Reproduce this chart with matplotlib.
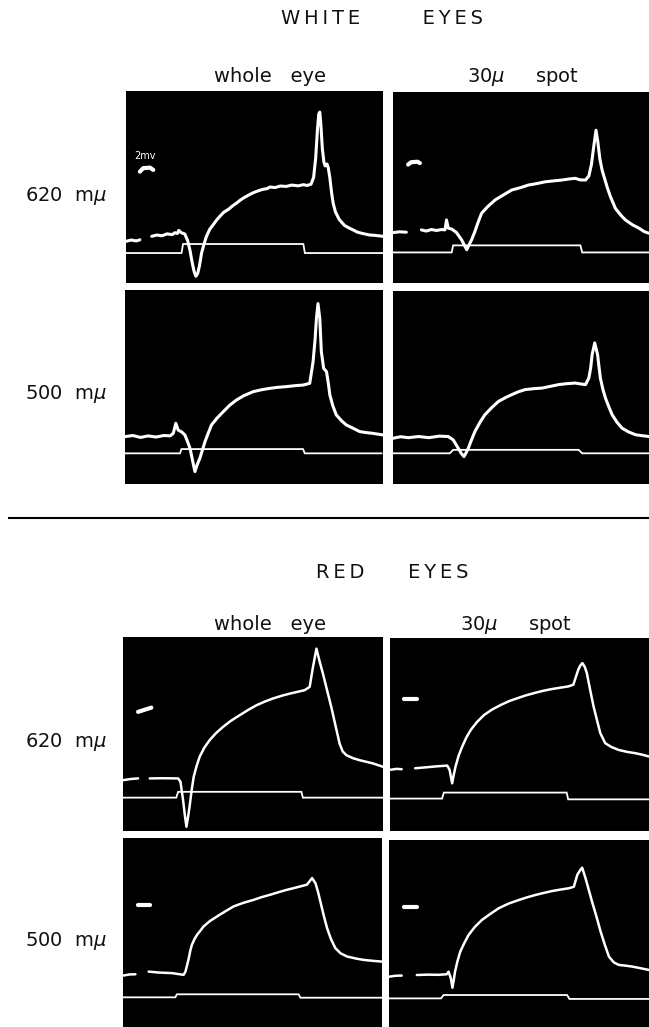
import numpy as np
import matplotlib
matplotlib.use("Agg")
import matplotlib.pyplot as plt
from matplotlib.lines import Line2D

nan = np.nan

# ---- traces (panel fraction units) ----
# white eyes, 620 mu, whole eye
w620_whole_x = [0.0, 0.02, 0.04, 0.054, nan, 0.10, 0.12, 0.14, 0.16, 0.18, 0.19, 0.2, 0.205,
                0.215, 0.229, 0.24, 0.249, 0.257, 0.265, 0.272, 0.279, 0.286, 0.294, 0.303,
                0.313, 0.326, 0.339, 0.352, 0.365, 0.38, 0.40, 0.415, 0.43, 0.445, 0.46, 0.48,
                0.495, 0.51, 0.53, 0.55, 0.56, 0.58, 0.60, 0.624, 0.645, 0.67, 0.69, 0.705,
                0.72, 0.73, 0.738, 0.745, 0.75, 0.754, 0.758, 0.764, 0.77, 0.775, 0.779, 0.782,
                0.787, 0.793, 0.80, 0.806, 0.815, 0.83, 0.85, 0.87, 0.883, 0.90, 0.92, 0.948,
                0.97, 1.0]
w620_whole_y = [0.217, 0.224, 0.219, 0.225, nan, 0.243, 0.25, 0.246, 0.256, 0.252, 0.262, 0.258,
                0.274, 0.262, 0.255, 0.22, 0.17, 0.11, 0.06, 0.035, 0.05, 0.09, 0.156, 0.2,
                0.243, 0.28, 0.303, 0.327, 0.347, 0.368, 0.385, 0.402, 0.416, 0.432, 0.445, 0.46,
                0.47, 0.478, 0.487, 0.492, 0.5, 0.497, 0.505, 0.503, 0.51, 0.506, 0.512, 0.508,
                0.515, 0.55, 0.65, 0.80, 0.88, 0.89, 0.83, 0.70, 0.63, 0.61, 0.615, 0.62,
                0.60, 0.55, 0.47, 0.416, 0.37, 0.33, 0.30, 0.285, 0.277, 0.265, 0.258, 0.25,
                0.248, 0.243]
w620_whole_sx = [0.0, 0.216, 0.222, 0.69, 0.696, 1.0]
w620_whole_sy = [0.156, 0.156, 0.203, 0.203, 0.156, 0.156]

# white eyes, 620 mu, 30 mu spot
w620_spot_x = [0.0, 0.025, 0.052, nan, 0.111, 0.13, 0.15, 0.17, 0.19, 0.203, 0.209, 0.216,
               0.23, 0.248, 0.268, 0.288, 0.297, 0.307, 0.32, 0.333, 0.346, 0.37, 0.399, 0.43,
               0.464, 0.50, 0.529, 0.56, 0.595, 0.63, 0.66, 0.69, 0.712, 0.73, 0.752, 0.765,
               0.775, 0.784, 0.793, 0.80, 0.808, 0.817, 0.837, 0.85, 0.869, 0.89, 0.908, 0.935,
               0.961, 0.98, 1.0]
w620_spot_y = [0.264, 0.268, 0.266, nan, 0.278, 0.272, 0.28, 0.275, 0.28, 0.278, 0.33, 0.287,
               0.282, 0.264, 0.226, 0.174, 0.20, 0.226, 0.27, 0.32, 0.365, 0.40, 0.435, 0.46,
               0.487, 0.50, 0.513, 0.52, 0.53, 0.535, 0.539, 0.545, 0.548, 0.54, 0.539, 0.56,
               0.62, 0.713, 0.80, 0.74, 0.65, 0.59, 0.50, 0.45, 0.39, 0.355, 0.33, 0.305,
               0.287, 0.27, 0.26]
w620_spot_sx = [0.0, 0.229, 0.235, 0.732, 0.739, 1.0]
w620_spot_sy = [0.16, 0.16, 0.197, 0.197, 0.16, 0.16]

# white eyes, 500 mu, whole eye
w500_whole_x = [0.0, 0.03, 0.06, 0.09, 0.12, 0.15, 0.175, 0.187, 0.197, 0.206, 0.22, 0.232,
                0.242, 0.252, 0.262, 0.271, 0.28, 0.29, 0.30, 0.31, 0.322, 0.335, 0.357, 0.381,
                0.405, 0.432, 0.46, 0.497, 0.53, 0.561, 0.59, 0.626, 0.66, 0.69, 0.716, 0.729,
                0.737, 0.742, 0.748, 0.755, 0.761, 0.77, 0.781, 0.788, 0.794, 0.805, 0.819,
                0.84, 0.858, 0.88, 0.91, 0.935, 0.961, 0.98, 1.0]
w500_whole_y = [0.244, 0.25, 0.24, 0.248, 0.242, 0.25, 0.248, 0.261, 0.313, 0.278, 0.268, 0.253,
                0.22, 0.184, 0.12, 0.064, 0.10, 0.132, 0.175, 0.218, 0.26, 0.304, 0.34, 0.373,
                0.405, 0.433, 0.455, 0.476, 0.486, 0.493, 0.498, 0.502, 0.507, 0.51, 0.519,
                0.63, 0.75, 0.854, 0.93, 0.854, 0.682, 0.596, 0.579, 0.52, 0.459, 0.405, 0.356,
                0.325, 0.304, 0.29, 0.27, 0.265, 0.261, 0.257, 0.253]
w500_whole_sx = [0.0, 0.213, 0.219, 0.69, 0.697, 0.994]
w500_whole_sy = [0.158, 0.158, 0.18, 0.18, 0.158, 0.158]

# white eyes, 500 mu, 30 mu spot
w500_spot_x = [0.0, 0.03, 0.06, 0.1, 0.14, 0.18, 0.216, 0.235, 0.255, 0.266, 0.277, 0.285,
               0.294, 0.307, 0.32, 0.34, 0.359, 0.385, 0.412, 0.44, 0.464, 0.49, 0.516, 0.55,
               0.582, 0.615, 0.647, 0.68, 0.712, 0.735, 0.752, 0.765, 0.772, 0.778, 0.788,
               0.799, 0.81, 0.82, 0.83, 0.843, 0.856, 0.875, 0.895, 0.92, 0.948, 0.975, 1.0]
w500_spot_y = [0.237, 0.245, 0.24, 0.246, 0.24, 0.248, 0.246, 0.229, 0.185, 0.16, 0.142, 0.16,
               0.185, 0.23, 0.272, 0.32, 0.359, 0.395, 0.428, 0.448, 0.463, 0.478, 0.489,
               0.494, 0.497, 0.506, 0.515, 0.52, 0.523, 0.518, 0.515, 0.549, 0.60, 0.671,
               0.731, 0.671, 0.549, 0.49, 0.445, 0.40, 0.359, 0.32, 0.289, 0.27, 0.255, 0.25,
               0.246]
w500_spot_sx = [0.0, 0.222, 0.235, 0.725, 0.739, 1.0]
w500_spot_sy = [0.159, 0.159, 0.177, 0.177, 0.159, 0.159]

# red eyes, 620 mu, whole eye
r620_whole_x = [0.0, 0.03, 0.058, nan, 0.103, 0.15, 0.212, 0.221, 0.231, 0.238, 0.244, 0.25,
                0.256, 0.264, 0.272, 0.283, 0.295, 0.313, 0.333, 0.358, 0.385, 0.415, 0.449,
                0.48, 0.513, 0.545, 0.577, 0.61, 0.641, 0.67, 0.699, 0.718, 0.73, 0.744, 0.756,
                0.769, 0.785, 0.801, 0.817, 0.833, 0.845, 0.859, 0.885, 0.91, 0.935, 0.962,
                0.98, 1.0]
r620_whole_y = [0.262, 0.268, 0.271, nan, 0.271, 0.272, 0.271, 0.254, 0.16, 0.08, 0.022, 0.07,
                0.125, 0.21, 0.28, 0.335, 0.383, 0.43, 0.468, 0.505, 0.537, 0.568, 0.597,
                0.623, 0.648, 0.667, 0.683, 0.697, 0.708, 0.717, 0.726, 0.743, 0.84, 0.94,
                0.875, 0.811, 0.725, 0.64, 0.545, 0.451, 0.41, 0.391, 0.375, 0.365, 0.357,
                0.348, 0.34, 0.331]
r620_whole_sx = [0.0, 0.205, 0.212, 0.686, 0.692, 1.0]
r620_whole_sy = [0.172, 0.172, 0.202, 0.202, 0.172, 0.172]

# red eyes, 620 mu, 30 mu spot
r620_spot_x = [0.0, 0.025, 0.045, nan, 0.097, 0.14, 0.18, 0.221, 0.23, 0.24, 0.246, 0.253,
               0.265, 0.279, 0.295, 0.312, 0.336, 0.364, 0.395, 0.429, 0.46, 0.494, 0.525,
               0.558, 0.59, 0.623, 0.655, 0.688, 0.708, 0.718, 0.727, 0.735, 0.743, 0.752,
               0.76, 0.773, 0.786, 0.80, 0.812, 0.831, 0.855, 0.883, 0.915, 0.948, 0.975, 1.0]
r620_spot_y = [0.317, 0.322, 0.32, nan, 0.325, 0.33, 0.335, 0.339, 0.317, 0.247, 0.29, 0.334,
               0.39, 0.438, 0.485, 0.524, 0.565, 0.602, 0.63, 0.654, 0.673, 0.689, 0.703,
               0.715, 0.726, 0.735, 0.742, 0.749, 0.758, 0.80, 0.836, 0.858, 0.87, 0.85,
               0.818, 0.73, 0.645, 0.57, 0.507, 0.455, 0.435, 0.42, 0.41, 0.403, 0.395, 0.386]
r620_spot_sx = [0.0, 0.201, 0.208, 0.682, 0.688, 1.0]
r620_spot_sy = [0.168, 0.168, 0.199, 0.199, 0.164, 0.164]

# red eyes, 500 mu, whole eye
r500_whole_x = [0.0, 0.025, 0.048, nan, 0.099, 0.14, 0.19, 0.234, 0.241, 0.248, 0.254, 0.26,
                0.266, 0.276, 0.286, 0.30, 0.311, 0.335, 0.363, 0.395, 0.427, 0.465, 0.505,
                0.535, 0.569, 0.60, 0.633, 0.66, 0.685, 0.71, 0.72, 0.73, 0.743, 0.752, 0.762,
                0.775, 0.788, 0.803, 0.82, 0.84, 0.865, 0.90, 0.929, 0.965, 1.0]
r500_whole_y = [0.272, 0.278, 0.279, nan, 0.293, 0.288, 0.285, 0.276, 0.293, 0.33, 0.364, 0.405,
                0.435, 0.465, 0.488, 0.512, 0.532, 0.56, 0.585, 0.612, 0.638, 0.657, 0.673,
                0.687, 0.70, 0.713, 0.726, 0.735, 0.744, 0.753, 0.77, 0.788, 0.761, 0.72,
                0.664, 0.59, 0.523, 0.465, 0.417, 0.39, 0.373, 0.362, 0.355, 0.35, 0.346]
r500_whole_sx = [0.0, 0.202, 0.208, 0.678, 0.685, 1.0]
r500_whole_sy = [0.157, 0.157, 0.173, 0.173, 0.155, 0.155]

# red eyes, 500 mu, 30 mu spot
r500_spot_x = [0.0, 0.025, 0.049, nan, 0.107, 0.15, 0.19, 0.222, 0.229, 0.238, 0.244, 0.249,
               0.254, 0.263, 0.274, 0.29, 0.306, 0.33, 0.357, 0.39, 0.422, 0.46, 0.499, 0.53,
               0.563, 0.595, 0.627, 0.66, 0.692, 0.711, 0.724, 0.735, 0.743, 0.756, 0.768,
               0.781, 0.798, 0.814, 0.83, 0.846, 0.865, 0.884, 0.91, 0.936, 0.965, 1.0]
r500_spot_y = [0.269, 0.274, 0.275, nan, 0.278, 0.28, 0.279, 0.282, 0.296, 0.26, 0.21, 0.25,
               0.296, 0.35, 0.403, 0.45, 0.492, 0.535, 0.572, 0.605, 0.635, 0.66, 0.679, 0.693,
               0.706, 0.717, 0.727, 0.735, 0.742, 0.75, 0.813, 0.838, 0.852, 0.795, 0.735,
               0.67, 0.59, 0.51, 0.44, 0.376, 0.345, 0.332, 0.328, 0.323, 0.315, 0.305]
r500_spot_sx = [0.0, 0.2, 0.21, 0.685, 0.694, 1.0]
r500_spot_sy = [0.153, 0.153, 0.171, 0.171, 0.15, 0.15]

# 2 mv calibration marks
cal_w620_whole = ([0.054, 0.067, 0.093, 0.106], [0.58, 0.598, 0.601, 0.589])
cal_w620_spot = ([0.059, 0.07, 0.095, 0.105], [0.62, 0.632, 0.635, 0.628])
cal_r620_whole = ([0.058, 0.109], [0.614, 0.636])
cal_r620_spot = ([0.055, 0.104], [0.683, 0.683])
cal_r500_whole = ([0.057, 0.106], [0.647, 0.647])
cal_r500_spot = ([0.058, 0.107], [0.643, 0.643])

row_labels = ["620  m$\\mu$", "500  m$\\mu$"]
col_labels = ["whole   eye", "30$\\mu$     spot"]
section_titles = ["W\u2009H\u2009I\u2009T\u2009E          E\u2009Y\u2009E\u2009S",
                  "R\u2009E\u2009D       E\u2009Y\u2009E\u2009S"]

W, H = 649, 1027
fig = plt.figure(figsize=(W / 100, H / 100), dpi=100)
fig.patch.set_facecolor("white")


def box(x0, y0, x1, y1):
    # pixel box (top-left origin) -> figure fraction rect
    return [x0 / W, 1 - y1 / H, (x1 - x0) / W, (y1 - y0) / H]


def scope(rect, tx, ty, sx, sy, cal=None, lw=2.0):
    ax = fig.add_axes(rect)
    ax.set_facecolor("black")
    ax.set_xlim(0, 1)
    ax.set_ylim(0, 1)
    ax.set_xticks([])
    ax.set_yticks([])
    for s in ax.spines.values():
        s.set_visible(False)
    ax.plot(sx, sy, color="white", lw=1.3, solid_joinstyle="miter")
    ax.plot(tx, ty, color="white", lw=lw, solid_capstyle="round", solid_joinstyle="round")
    if cal is not None:
        ax.plot(cal[0], cal[1], color="white", lw=3, solid_capstyle="round")
    return ax


# white eyes
a1 = scope(box(126, 91, 383, 283), w620_whole_x, w620_whole_y, w620_whole_sx, w620_whole_sy,
           cal_w620_whole, lw=2.2)
a1.text(0.075, 0.66, "2mv", color="white", fontsize=7, ha="center", va="center")
scope(box(393, 92, 649, 283), w620_spot_x, w620_spot_y, w620_spot_sx, w620_spot_sy,
      cal_w620_spot, lw=2.2)
scope(box(125, 290, 383, 484), w500_whole_x, w500_whole_y, w500_whole_sx, w500_whole_sy,
      lw=2.2)
scope(box(393, 291, 649, 484), w500_spot_x, w500_spot_y, w500_spot_sx, w500_spot_sy, lw=2.2)

# red eyes
scope(box(123, 637, 383, 831), r620_whole_x, r620_whole_y, r620_whole_sx, r620_whole_sy,
      cal_r620_whole, lw=1.8)
scope(box(390, 638, 649, 831), r620_spot_x, r620_spot_y, r620_spot_sx, r620_spot_sy,
      cal_r620_spot, lw=1.8)
scope(box(123, 838, 382, 1027), r500_whole_x, r500_whole_y, r500_whole_sx, r500_whole_sy,
      cal_r500_whole, lw=1.8)
scope(box(389, 840, 649, 1027), r500_spot_x, r500_spot_y, r500_spot_sx, r500_spot_sy,
      cal_r500_spot, lw=1.8)

# text
txt = dict(color="#111111", ha="center", va="center")
fig.text(382 / W, 1 - 19 / H, section_titles[0], fontsize=14, **txt)
fig.text(270 / W, 1 - 77 / H, col_labels[0], fontsize=14, **txt)
fig.text(523 / W, 1 - 77 / H, col_labels[1], fontsize=14, **txt)
fig.text(392 / W, 1 - 572 / H, section_titles[1], fontsize=14, **txt)
fig.text(270 / W, 1 - 625 / H, col_labels[0], fontsize=14, **txt)
fig.text(516 / W, 1 - 625 / H, col_labels[1], fontsize=14, **txt)

for yy, lab in zip([196, 394, 742, 941], row_labels * 2):
    fig.text(66 / W, 1 - yy / H, lab, fontsize=14, **txt)

# divider between the two groups
fig.add_artist(Line2D([9 / W, 1.0], [1 - 518 / H, 1 - 518 / H], color="black", lw=1.5))

fig.savefig("out.png", dpi=100, facecolor="white")
